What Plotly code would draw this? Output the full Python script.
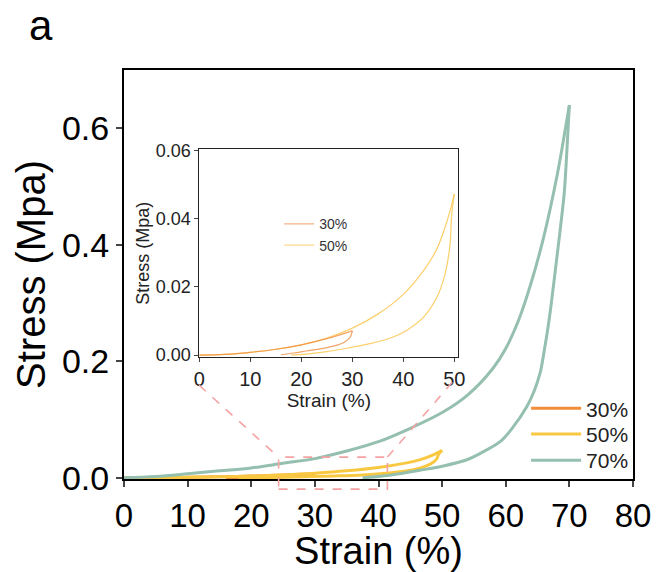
import plotly.graph_objects as go

# ---- cyclic compression data: strain (%) vs stress (MPa) ----
strain_30_load = [0, 5, 10, 15, 20, 25, 30]
stress_30_load = [0.0, 0.0002, 0.0008, 0.0017, 0.0030, 0.0048, 0.0071]
strain_30_unload = [30, 29.6, 28.5, 27, 24, 21, 18.5, 16]
stress_30_unload = [0.0071, 0.0053, 0.0038, 0.0029, 0.0019, 0.0012, 0.0006, 0.0001]

strain_50_load = [0, 5, 10, 15, 20, 25, 30, 35, 40, 44, 46.6, 48.6, 50]
stress_50_load = [0.0, 0.0002, 0.0008, 0.0017, 0.0030, 0.0050, 0.0079, 0.0120, 0.0178,
                  0.0248, 0.0312, 0.0394, 0.0472]
strain_50_unload = [50, 49.5, 49.1, 48.2, 46.6, 44, 40.7, 37.5, 33, 29.6, 25, 21, 18]
stress_50_unload = [0.0472, 0.0414, 0.0316, 0.0239, 0.0170, 0.0112, 0.0073, 0.0050,
                    0.0032, 0.0022, 0.0010, 0.0003, 0.0]

strain_70_load = [0, 5, 10, 15, 20, 25, 30, 35, 40, 45, 50, 54, 58, 60, 62, 64, 66, 68,
                  69, 70]
stress_70_load = [0.0, 0.0025, 0.007, 0.012, 0.017, 0.025, 0.033, 0.046, 0.062, 0.085,
                  0.112, 0.142, 0.188, 0.222, 0.270, 0.335, 0.415, 0.515, 0.575, 0.640]
strain_70_unload = [70, 69.6, 69.2, 68.6, 68, 67.5, 66.8, 66, 65.4, 64.5, 63.3, 61, 59.1,
                    56, 53.9, 50, 46.5, 42, 37.5]
stress_70_unload = [0.640, 0.560, 0.490, 0.430, 0.375, 0.330, 0.270, 0.215, 0.180, 0.150,
                    0.122, 0.085, 0.062, 0.042, 0.031, 0.020, 0.013, 0.005, 0.0]

series_names = ["30%", "50%", "70%"]
main_colors = ["#F08C3A", "#F9C842", "#95BFAE"]
inset_colors = ["rgba(240,140,60,0.8)", "rgba(250,196,70,0.8)"]
inset_legend_colors = ["#F5B183", "#FCD88E"]

x_ticks_main = [0, 10, 20, 30, 40, 50, 60, 70, 80]
y_ticks_main = [0.0, 0.2, 0.4, 0.6]
x_ticks_inset = [0, 10, 20, 30, 40, 50]
y_ticks_inset = [0.00, 0.02, 0.04, 0.06]

# zoom box on main axes (strain, stress) and where its guide lines point
zoom_box = (24.3, 41.4, -0.0194, 0.0355)
guide_left_end = (11.8, 0.159)
guide_right_end = (51.6, 0.164)

FONT = "Liberation Sans, Arial, sans-serif"
X_RANGE = (0, 80)
Y_RANGE = (-0.002, 0.7)

curves = [
    (strain_30_load, stress_30_load, strain_30_unload, stress_30_unload),
    (strain_50_load, stress_50_load, strain_50_unload, stress_50_unload),
    (strain_70_load, stress_70_load, strain_70_unload, stress_70_unload),
]

# one single-entry legend per main series, stacked in the lower right
main_legends = ["legend", "legend3", "legend4"]

fig = go.Figure()

# main panel: loading + unloading branch for each strain level
for name, color, leg, (xl, yl, xu, yu) in zip(series_names, main_colors, main_legends, curves):
    for i, (xs, ys) in enumerate([(xl, yl), (xu, yu)]):
        fig.add_trace(go.Scatter(
            x=xs, y=ys, mode="lines", name=name, legendgroup=name,
            showlegend=(i == 0), legend=leg,
            line=dict(color=color, width=3, shape="spline", smoothing=1.0),
            xaxis="x", yaxis="y",
        ))

# inset panel: 30% and 50% cycles
for name, color, (xl, yl, xu, yu) in zip(series_names[:2][::-1], inset_colors[::-1],
                                         curves[:2][::-1]):
    for xs, ys in [(xl, yl), (xu, yu)]:
        fig.add_trace(go.Scatter(
            x=xs, y=ys, mode="lines", name=name, showlegend=False, legend="legend2",
            line=dict(color=color, width=1.2, shape="spline", smoothing=1.0),
            xaxis="x2", yaxis="y2",
        ))
for name, lcolor in zip(series_names[:2], inset_legend_colors):
    fig.add_trace(go.Scatter(
        x=[None], y=[None], mode="lines", name=name, legend="legend2",
        line=dict(color=lcolor, width=1.2), xaxis="x2", yaxis="y2",
    ))


def to_paper(x, y):
    return ((x - X_RANGE[0]) / (X_RANGE[1] - X_RANGE[0]),
            (y - Y_RANGE[0]) / (Y_RANGE[1] - Y_RANGE[0]))


dash_line = dict(color="#F4A3A3", width=1.6, dash="dash")
bx0, by0 = to_paper(zoom_box[0], zoom_box[2])
bx1, by1 = to_paper(zoom_box[1], zoom_box[3])
lx, ly = to_paper(*guide_left_end)
rx, ry = to_paper(*guide_right_end)
shapes = [
    dict(type="rect", xref="paper", yref="paper", x0=bx0, x1=bx1, y0=by0, y1=by1,
         line=dash_line, fillcolor="rgba(0,0,0,0)"),
    dict(type="line", xref="paper", yref="paper", x0=lx, y0=ly, x1=bx0, y1=by1, line=dash_line),
    dict(type="line", xref="paper", yref="paper", x0=rx, y0=ry, x1=bx1, y1=by1, line=dash_line),
]

legend_style = dict(xanchor="left", yanchor="middle", bgcolor="rgba(0,0,0,0)",
                    font=dict(size=21, color="#222"), itemwidth=50)

fig.update_layout(
    width=657, height=572, autosize=False,
    margin=dict(l=124, r=24, t=70, b=93),
    paper_bgcolor="white", plot_bgcolor="white",
    font=dict(family=FONT, color="black"),
    shapes=shapes,
    xaxis=dict(
        range=list(X_RANGE), tickvals=x_ticks_main, ticks="outside", ticklen=6, tickwidth=2,
        showline=True, linewidth=2, linecolor="black", mirror=True, automargin=False,
        showgrid=False, zeroline=False, tickfont=dict(size=33),
        title=dict(text="Strain (%)", font=dict(size=38), standoff=0),
    ),
    yaxis=dict(
        range=list(Y_RANGE), tickvals=y_ticks_main, tickformat=".1f", ticks="outside",
        ticklen=6, tickwidth=2, showline=True, linewidth=2, linecolor="black", mirror=True,
        automargin=False, showgrid=False, zeroline=False, tickfont=dict(size=34),
        title=dict(text="Stress (Mpa)", font=dict(size=40), standoff=4),
    ),
    xaxis2=dict(
        domain=[0.148, 0.657], anchor="y2", range=[0, 50.8], tickvals=x_ticks_inset,
        ticks="outside", ticklen=4, tickwidth=1, showline=True, linewidth=1,
        linecolor="#222", mirror=True, showgrid=False, zeroline=False, automargin=False,
        tickfont=dict(size=20, color="#222"),
        title=dict(text="Strain (%)", font=dict(size=19, color="#222"), standoff=1),
    ),
    yaxis2=dict(
        domain=[0.298, 0.806], anchor="x2", range=[-0.0006, 0.0603], tickvals=y_ticks_inset,
        tickformat=".2f", ticks="outside", ticklen=4, tickwidth=1, showline=True,
        linewidth=1, linecolor="#222", mirror=True, showgrid=False, zeroline=False,
        automargin=False, tickfont=dict(size=18, color="#222"),
        title=dict(text="Stress (Mpa)", font=dict(size=18, color="#222"), standoff=1),
    ),
    legend=dict(x=0.79, y=0.172, **legend_style),
    legend3=dict(x=0.79, y=0.109, **legend_style),
    legend4=dict(x=0.79, y=0.045, **legend_style),
    legend2=dict(
        x=0.305, y=0.662, xanchor="left", yanchor="top", bgcolor="rgba(0,0,0,0)",
        font=dict(size=14, color="#333"), itemwidth=30, tracegroupgap=0,
    ),
    annotations=[
        dict(text="a", xref="paper", yref="paper", x=-0.19, y=1.17, xanchor="left",
             yanchor="top", showarrow=False, font=dict(size=42, color="black")),
    ],
)

fig.write_html("out.html")
